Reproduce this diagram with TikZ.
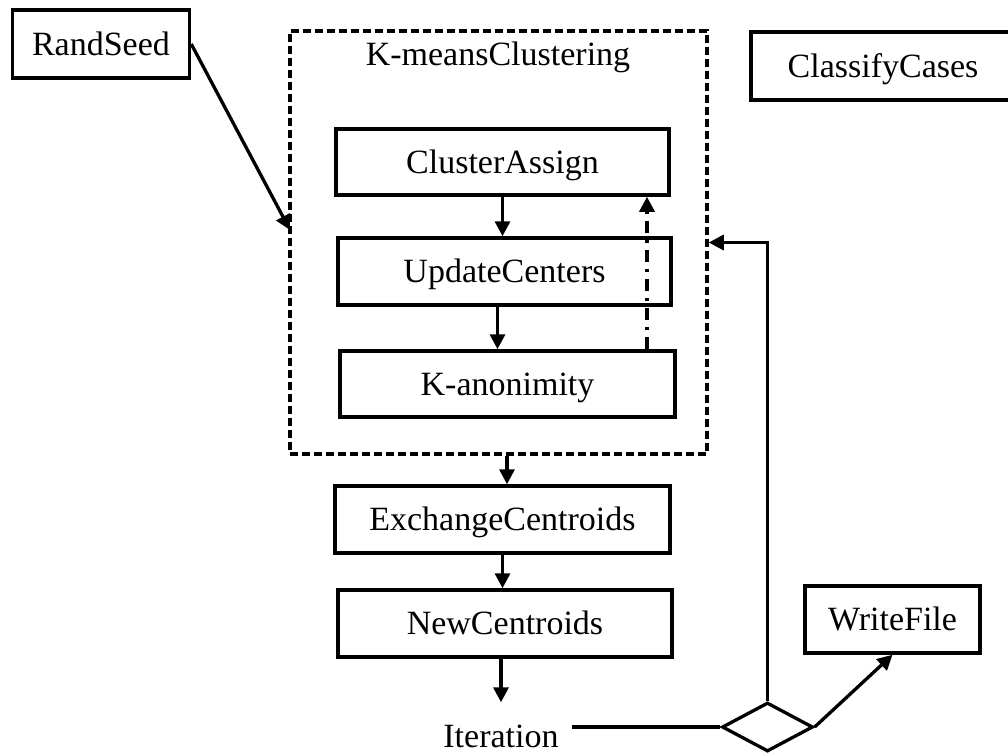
\documentclass[tikz,border=0pt]{standalone}
\usepackage{fontspec}
\setmainfont{Liberation Serif}
\usetikzlibrary{arrows.meta,shapes.geometric}
\tikzset{
  lbl/.style={font=\fontsize{34}{40}\selectfont, inner sep=0pt},
  box/.style={draw, line width=3.5pt, rectangle, inner sep=0pt, text height=22pt, text depth=0pt, font=\fontsize{34}{40}\selectfont},
  arr/.style={line width=3.3pt, -{Triangle[length=15pt,width=15pt]}},
  plain/.style={line width=3.3pt},
  dashdotline/.style={dash pattern=on 12pt off 7pt on 3pt off 7pt},
  groupbox/.style={draw, line width=3.5pt, dash pattern=on 8pt off 4pt, rectangle, inner sep=0pt}
}
\begin{document}
\begin{tikzpicture}[x=1pt,y=-1pt]
\useasboundingbox (0,0) rectangle (1008,753);
% nodes
\node[box, minimum width=177pt, minimum height=68pt] (rs) at (101,44) {RandSeed};
\node[groupbox, minimum width=417pt, minimum height=423pt] (km) at (498.5,242.5) {};
\node[lbl, anchor=base] (kmt) at (498,65) {K-meansClustering};
\node[box, minimum width=264pt, minimum height=68pt] (cc) at (883,66) {ClassifyCases};
\node[box, minimum width=333pt, minimum height=66pt] (ca) at (502.5,162) {ClusterAssign};
\node[box, minimum width=333pt, minimum height=67pt] (uc) at (504.5,271.5) {UpdateCenters};
\node[box, minimum width=335pt, minimum height=66pt] (ka) at (507.5,384) {K-anonimity};
\node[box, minimum width=335pt, minimum height=67pt] (ec) at (502.5,519.5) {ExchangeCentroids};
\node[box, minimum width=334pt, minimum height=67pt] (nc) at (505,623.5) {NewCentroids};
\node[box, minimum width=175pt, minimum height=67pt] (wf) at (892.5,619.5) {WriteFile};
\node[lbl, anchor=base] (iter) at (501,747) {Iteration};
\node[draw, line width=3.3pt, shape=diamond, inner sep=0pt, minimum width=91pt, minimum height=49pt] (dec) at (767.5,727) {};
\coordinate (rsin) at (290,230);
% connectors
\draw[arr] (rs.east) -- (rsin);
\draw[arr] (ca.south) -- (ca.south |- uc.north);
\draw[arr] ([xshift=-7pt]uc.south) -- ([xshift=-7pt]uc.south |- ka.north);
\draw[arr, dashdotline] ([xshift=139.5pt]ka.north) -- ([xshift=139.5pt]ka.north |- ca.south);
\draw[arr] ([xshift=8.5pt]km.south) -- ([xshift=8.5pt]km.south |- ec.north);
\draw[arr] (ec.south) -- (ec.south |- nc.north);
\draw[arr] (iter.north |- nc.south) -- ([yshift=22pt]iter.north);
\draw[plain] ([xshift=13pt]iter.east |- dec.west) -- (dec.west);
\draw[arr] (dec.north) |- (km.east);
\draw[arr] (dec.east) -- (wf.south);
\end{tikzpicture}
\end{document}
